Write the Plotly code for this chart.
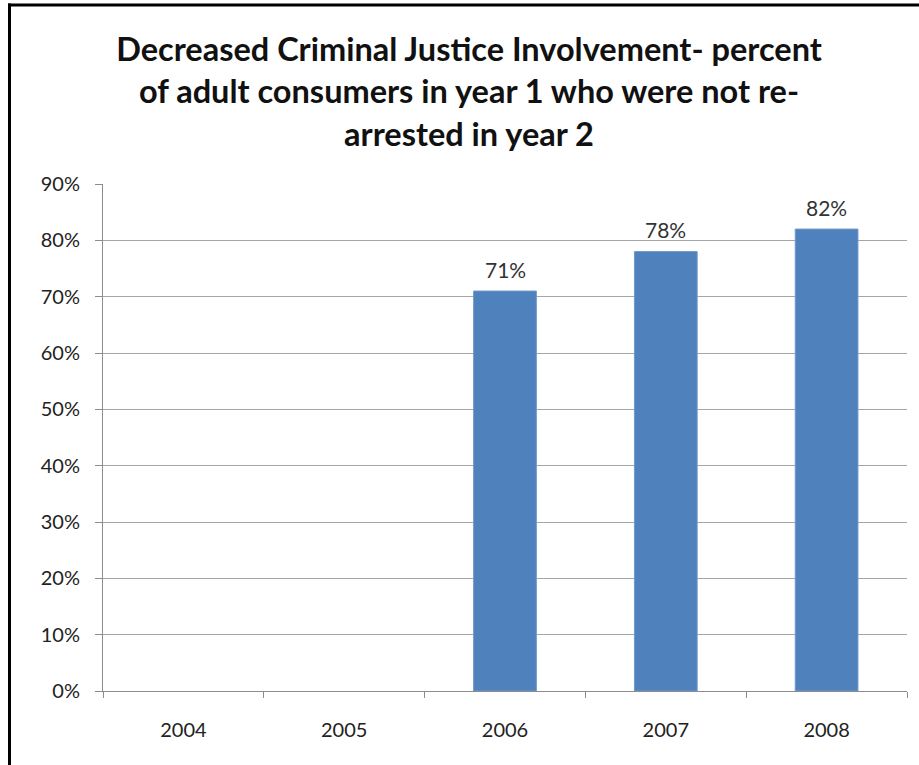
import plotly.graph_objects as go

years = ["2004", "2005", "2006", "2007", "2008"]
pct_not_rearrested = [None, None, 71, 78, 82]
bar_labels = ["", "", "71%", "78%", "82%"]
y_ticks = [0, 10, 20, 30, 40, 50, 60, 70, 80, 90]
y_tick_labels = [f"{v}%" for v in y_ticks]

title_text = ("Decreased Criminal Justice Involvement- percent<br>"
              "of adult consumers in year 1 who were not re-<br>"
              "arrested in year 2")

W, H = 919, 765
ML, MR, MT, MB = 103, 12, 184, 74
plot_w = W - ML - MR
plot_h = H - MT - MB

fig = go.Figure()

fig.add_trace(
    go.Bar(
        x=years,
        y=pct_not_rearrested,
        marker={"color": "#4f81bd", "line": {"color": "#7099cc", "width": 1}},
        hoverinfo="x+y",
    )
)

# value labels sitting well above each bar, like the Excel original
# (category axis: annotations take the category index)
for i, (val, lab) in enumerate(zip(pct_not_rearrested, bar_labels)):
    if val is None:
        continue
    fig.add_annotation(
        x=i, y=val, text=lab, showarrow=False,
        yanchor="middle", yshift=22,
        font={"family": "Lato", "size": 21, "color": "#333333"},
    )

fig.update_layout(
    width=W,
    height=H,
    paper_bgcolor="white",
    plot_bgcolor="white",
    margin={"l": ML, "r": MR, "t": MT, "b": MB},
    bargap=0.61,
    showlegend=False,
    title={
        "text": title_text,
        "x": 469 / W,
        "xanchor": "center",
        "y": 1 - 61 / H,
        "yanchor": "middle",
        "font": {"family": "Lato", "size": 32.5, "color": "#111111", "weight": "bold"},
    },
    shapes=[
        # what is left of the chart border: top and left edges
        {"type": "line", "xref": "paper", "yref": "paper",
         "x0": (8 - ML) / plot_w, "x1": (W + 5 - ML) / plot_w,
         "y0": 1 + (MT - 5) / plot_h, "y1": 1 + (MT - 5) / plot_h,
         "line": {"color": "black", "width": 3}},
        {"type": "line", "xref": "paper", "yref": "paper",
         "x0": (9.5 - ML) / plot_w, "x1": (9.5 - ML) / plot_w,
         "y0": -(MB + 5) / plot_h, "y1": 1 + (MT - 3.5) / plot_h,
         "line": {"color": "black", "width": 3}},
    ],
)

fig.update_xaxes(
    type="category",
    automargin=False,
    showline=True,
    linecolor="#8c8c8c",
    linewidth=1,
    ticks="outside",
    tickson="boundaries",
    ticklen=6,
    tickcolor="#8c8c8c",
    tickfont={"family": "Lato", "size": 20, "color": "#222222"},
    tickangle=0,
    ticklabelstandoff=21,
    showgrid=False,
)

fig.update_yaxes(
    range=[0, 90],
    automargin=False,
    tickmode="array",
    tickvals=y_ticks,
    ticktext=y_tick_labels,
    showline=True,
    linecolor="#8c8c8c",
    linewidth=1,
    ticks="outside",
    ticklen=7,
    tickcolor="#8c8c8c",
    tickfont={"family": "Lato", "size": 20, "color": "#222222"},
    ticklabelstandoff=11,
    showgrid=True,
    gridcolor="#a6a6a6",
    gridwidth=1,
    zeroline=False,
)

# the page body has a default 8px margin; drop it so the chart fills the window
fig.write_html("out.html", config={"displayModeBar": False},
               post_script="document.body.style.margin='0';")
